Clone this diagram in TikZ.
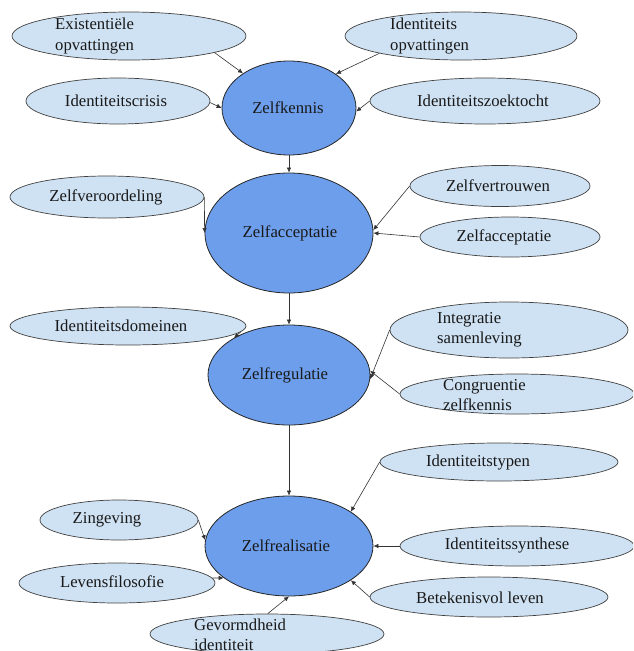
\documentclass[tikz,border=0pt]{standalone}
\usepackage{fontspec}
\setmainfont{Liberation Serif}
\usetikzlibrary{shapes.geometric,arrows.meta}
\definecolor{mainblue}{HTML}{6D9EEB}
\definecolor{lightblue}{HTML}{CFE2F3}
\begin{document}
\begin{tikzpicture}[x=1pt,y=-1pt,
  mainnode/.style={ellipse, draw=black!85, line width=0.8pt, fill=mainblue, inner sep=0pt},
  leaf/.style={ellipse, draw=black!75, line width=0.7pt, fill=lightblue, inner sep=0pt},
  lbl/.style={font=\fontsize{16.7}{20.5}\selectfont, inner sep=0pt, text=black!90},
  lbll/.style={lbl, anchor=west, align=left},
  arr/.style={-{Latex[length=5pt,width=4.5pt]}, line width=0.6pt, draw=black!80}]
\useasboundingbox (0,0) rectangle (633,651);
\clip (0,0) rectangle (633,651);
% main ellipses
\node[mainnode, minimum width=134pt, minimum height=94pt] (zk) at (289,108) {};
\node[mainnode, minimum width=168pt, minimum height=120pt] (zfa) at (289,233) {};
\node[mainnode, minimum width=162pt, minimum height=100pt] (zrg) at (289,375) {};
\node[mainnode, minimum width=168pt, minimum height=100pt] (zrl) at (289,546) {};
\node[lbl] (tzk) at (288,108) {Zelfkennis};
\node[lbl] (tzfa) at (290,233) {Zelfacceptatie};
\node[lbl] (tzrg) at (285,375) {Zelfregulatie};
\node[lbl] (tzrl) at (286,546) {Zelfrealisatie};
% leaf ellipses
\node[leaf, minimum width=234pt, minimum height=48pt] (exi) at (129,36) {};
\node[leaf, minimum width=232pt, minimum height=48pt] (ido) at (461,36) {};
\node[leaf, minimum width=184pt, minimum height=46pt] (icr) at (118,101) {};
\node[leaf, minimum width=230pt, minimum height=46pt] (izt) at (485,101) {};
\node[leaf, minimum width=194pt, minimum height=42pt] (zvo) at (107,197) {};
\node[leaf, minimum width=180pt, minimum height=41pt] (zvt) at (500,186) {};
\node[leaf, minimum width=180pt, minimum height=40pt] (zfb) at (510,237) {};
\node[leaf, minimum width=236pt, minimum height=38pt] (idm) at (128,326) {};
\node[leaf, minimum width=238pt, minimum height=56pt] (ins) at (509,330) {};
\node[leaf, minimum width=234pt, minimum height=40pt] (cgz) at (517,394) {};
\node[leaf, minimum width=238pt, minimum height=38pt] (itp) at (499,462) {};
\node[leaf, minimum width=158pt, minimum height=40pt] (zgv) at (119,520) {};
\node[leaf, minimum width=234pt, minimum height=40pt] (isy) at (517,546) {};
\node[leaf, minimum width=196pt, minimum height=40pt] (lvf) at (117,583) {};
\node[leaf, minimum width=238pt, minimum height=40pt] (bkv) at (489,597) {};
\node[leaf, minimum width=234pt, minimum height=40pt] (gvi) at (267,634) {};
% leaf texts
\node[lbll] (texi) at (55,36) {Existentiële\\opvattingen};
\node[lbll] (tido) at (390,36) {Identiteits\\opvattingen};
\node[lbl] (ticr) at (116,101) {Identiteitscrisis};
\node[lbl] (tizt) at (483,101) {Identiteitszoektocht};
\node[lbl] (tzvo) at (106,197) {Zelfveroordeling};
\node[lbl] (tzvt) at (498,186) {Zelfvertrouwen};
\node[lbl] (tzfb) at (504,237) {Zelfacceptatie};
\node[lbl] (tidm) at (121,326) {Identiteitsdomeinen};
\node[lbll] (tins) at (437,330) {Integratie\\samenleving};
\node[lbll] (tcgz) at (443,395) {Congruentie\\zelfkennis};
\node[lbl] (titp) at (478,463) {Identiteitstypen};
\node[lbl] (tzgv) at (107,520) {Zingeving};
\node[lbl] (tisy) at (507,546) {Identiteitssynthese};
\node[lbl] (tlvf) at (112,582) {Levensfilosofie};
\node[lbl] (tbkv) at (480,598) {Betekenisvol leven};
\node[lbll] (tgvi) at (194,635) {Gevormdheid\\identiteit};
% connectors
\draw[arr] (exi.-11) -- (zk.143);
\draw[arr] (ido.192) -- (zk.36);
\draw[arr] (icr.-1) -- (zk.180);
\draw[arr] (izt.180) -- (zk.-3);
\draw[arr] (zk.south) -- (zfa.north);
\draw[arr] (zvo.east) -- (zfa.west);
\draw[arr] (zvt.west) -- (zfa.2);
\draw[arr] (zfb.west) -- (zfa.0);
\draw[arr] (zfa.south) -- (zrg.north);
\draw[arr] (idm.-3) -- (zrg.146);
\draw[arr] (ins.west) -- (zrg.-3);
\draw[arr] (cgz.west) -- (zrg.3);
\draw[arr] (zrg.south) -- (zrl.north);
\draw[arr] (itp.west) -- (zrl.29);
\draw[arr] (zgv.east) -- (zrl.176);
\draw[arr] (isy.west) -- (zrl.east);
\draw[arr] (lvf.3) -- (zrl.206);
\draw[arr] (bkv.west) -- (zrl.-29);
\draw[arr] (gvi.88) -- (zrl.-90);
\end{tikzpicture}
\end{document}
